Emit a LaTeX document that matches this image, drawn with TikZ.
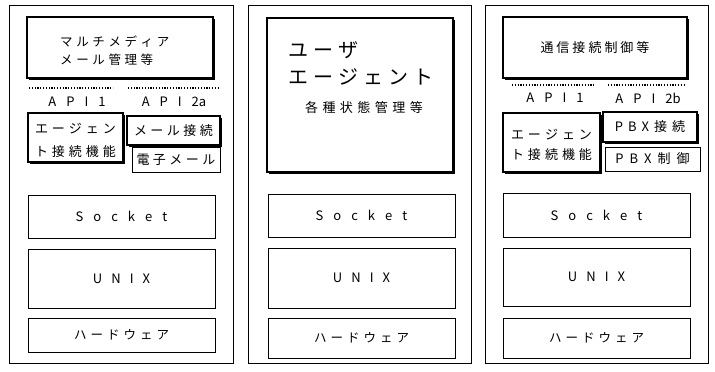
\documentclass[tikz,border=0pt]{standalone}
\usepackage{fontspec}
\setmainfont{Noto Sans CJK JP}
\usetikzlibrary{shadows}
\makeatletter
\def\ls#1#2{\begingroup\def\ls@k{#1}\ls@a#2\relax\kern-\ls@k\relax\endgroup}
\def\ls@a#1{\ifx\relax#1\else#1\kern\ls@k\relax\expandafter\ls@a\fi}
\makeatother
\tikzset{
 panel/.style={draw, line width=0.8pt, inner sep=0pt},
 tbox/.style={draw, line width=0.7pt, fill=white, inner sep=0pt},
 sbox/.style={draw, line width=1.3pt, fill=white, inner sep=0pt,
   drop shadow={shadow xshift=1.8pt, shadow yshift=-1.8pt, opacity=1, fill=black}},
 txt/.style={inner sep=0pt, font=\fontsize{12pt}{14pt}\selectfont},
 lat/.style={inner sep=0pt, font=\fontsize{13pt}{14pt}\selectfont},
 txtb/.style={inner sep=0pt, align=center, font=\fontsize{13pt}{23pt}\selectfont},
 dots/.style={line width=2pt, dash pattern=on 1.2pt off 1.6pt},
}
\newcommand\latf{\fontsize{13pt}{14pt}\selectfont}
\begin{document}
\begin{tikzpicture}[x=1pt,y=-1pt]
\useasboundingbox (0,0) rectangle (715,372);
% ---------- panel 1
\node[panel, minimum width=224pt, minimum height=358pt] (outer1) at (121,184) {};
\node[sbox, minimum width=186pt, minimum height=61pt] (mm) at (120,47.5) {};
\node[txt, anchor=west, align=left, font=\fontsize{12.5pt}{18pt}\selectfont] (mmt) at (60,51) {\ls{3.6pt}{マルチメディア}\\\ls{3.6pt}{メール管理等}};
\coordinate (d1a) at (29,88); \coordinate (d1b) at (113,88);
\coordinate (d2a) at (128,88); \coordinate (d2b) at (220,88);
\draw[dots] (d1a) -- (d1b);
\draw[dots] (d2a) -- (d2b);
\node[lat] (api1a) at (77,102) {\ls{10pt}{API1}};
\node[lat] (api2a) at (174,102) {\ls{10pt}{API}\kern10pt 2a};
\node[sbox, minimum width=95pt, minimum height=49pt] (ag1) at (75.5,137.5) {};
\node[txtb] (ag1t) at (75.5,140) {\ls{4pt}{エージェン}\\\ls{4pt}{ト接続機能}};
\node[sbox, minimum width=93pt, minimum height=29pt] (mc) at (173.5,130.5) {\fontsize{13pt}{14pt}\selectfont\ls{3.5pt}{メール接続}};
\node[tbox, minimum width=88pt, minimum height=25pt] (em) at (176,159.5) {\fontsize{13pt}{14pt}\selectfont\ls{3.5pt}{電子メール}};
\node[tbox, minimum width=187pt, minimum height=43pt] (so1) at (121.5,216.5) {\latf\ls{10pt}{Socket}};
\node[tbox, minimum width=187pt, minimum height=59pt] (ux1) at (121.5,278.5) {\latf\ls{9pt}{UNIX}};
\node[tbox, minimum width=187pt, minimum height=34pt] (hw1) at (121.5,335) {\fontsize{12.5pt}{14pt}\selectfont\ls{4pt}{ハードウェア}};
% ---------- panel 2
\node[panel, minimum width=223pt, minimum height=358pt] (outer2) at (359.5,184) {};
\node[sbox, minimum width=186pt, minimum height=154pt] (ua) at (360,95) {};
\node[txt, anchor=west, font=\fontsize{20pt}{22pt}\selectfont] (ua1) at (288,50) {\ls{5pt}{ユーザ}};
\node[txt, anchor=west, font=\fontsize{20pt}{22pt}\selectfont] (ua2) at (288,77) {\ls{5pt}{エージェント}};
\node[txt, font=\fontsize{13pt}{14pt}\selectfont] (ua3) at (364,108) {\ls{4.5pt}{各種状態管理等}};
\node[tbox, minimum width=187pt, minimum height=43pt] (so2) at (361.5,215.5) {\latf\ls{10pt}{Socket}};
\node[tbox, minimum width=187pt, minimum height=60pt] (ux2) at (361.5,278) {\latf\ls{9pt}{UNIX}};
\node[tbox, minimum width=187pt, minimum height=40pt] (hw2) at (361.5,338) {\fontsize{12.5pt}{14pt}\selectfont\ls{4pt}{ハードウェア}};
% ---------- panel 3
\node[panel, minimum width=223pt, minimum height=358pt] (outer3) at (596.5,184) {};
\node[sbox, minimum width=184pt, minimum height=61pt] (cc) at (595,47.5) {\fontsize{13pt}{14pt}\selectfont\ls{3pt}{通信接続制御等}};
\coordinate (d3a) at (512,85); \coordinate (d3b) at (595,85);
\coordinate (d4a) at (608,85); \coordinate (d4b) at (685,85);
\draw[dots] (d3a) -- (d3b);
\draw[dots] (d4a) -- (d4b);
\node[lat] (api1b) at (555,98) {\ls{10pt}{API1}};
\node[lat] (api2b) at (648,98) {\ls{10pt}{API}\kern10pt 2b};
\node[sbox, minimum width=97pt, minimum height=59pt] (ag3) at (551.5,142.5) {};
\node[txtb, font=\fontsize{13pt}{20pt}\selectfont] (ag3t) at (551.5,145) {\ls{4pt}{エージェン}\\\ls{4pt}{ト接続機能}};
\node[sbox, minimum width=94pt, minimum height=30pt] (pc) at (650,127) {\fontsize{13pt}{14pt}\selectfont\ls{5pt}{PBX接続}};
\node[tbox, minimum width=95pt, minimum height=24pt] (pd) at (652.5,159) {\fontsize{13pt}{14pt}\selectfont\ls{6pt}{PBX制御}};
\node[tbox, minimum width=187pt, minimum height=44pt] (so3) at (596.5,215) {\latf\ls{10pt}{Socket}};
\node[tbox, minimum width=187pt, minimum height=58pt] (ux3) at (596.5,277) {\latf\ls{9pt}{UNIX}};
\node[tbox, minimum width=187pt, minimum height=40pt] (hw3) at (596.5,338) {\fontsize{12.5pt}{14pt}\selectfont\ls{4pt}{ハードウェア}};
\end{tikzpicture}
\end{document}
